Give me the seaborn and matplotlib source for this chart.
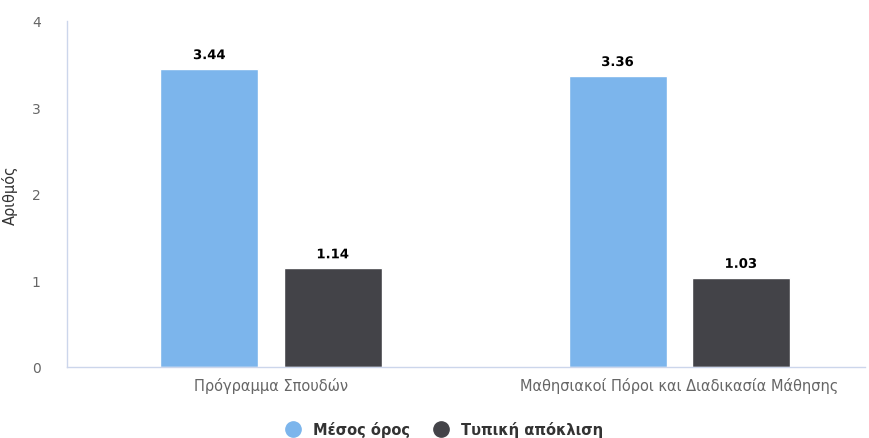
import matplotlib
matplotlib.use("Agg")
import matplotlib.pyplot as plt
import seaborn as sns
import pandas as pd
from matplotlib.lines import Line2D
import matplotlib.patheffects as pe

categories = ["Πρόγραμμα Σπουδών", "Μαθησιακοί Πόροι και Διαδικασία Μάθησης"]
series_names = ["Μέσος όρος", "Τυπική απόκλιση"]
mean_values = [3.44, 3.36]
std_values = [1.14, 1.03]
colors = ["#7cb5ec", "#434348"]
y_ticks = [0, 1, 2, 3, 4]

df = pd.DataFrame({
    "cat": categories * 2,
    "series": [series_names[0]] * 2 + [series_names[1]] * 2,
    "value": mean_values + std_values,
})

sns.set_theme(style="white")
plt.rcParams["font.family"] = ["DejaVu Sans"]

fig = plt.figure(figsize=(8.69, 4.39), dpi=100)
ax_left, ax_w = 67 / 869, (865 - 67) / 869
ax = fig.add_axes([ax_left, (439 - 368) / 439, ax_w, 346.5 / 439])

sns.barplot(data=df, x="cat", y="value", hue="series", palette=colors,
            width=0.604, gap=0.205, ax=ax, legend=False, saturation=1,
            errorbar=None)

ax.set_xlim(-0.5, 1.455)
ax.set_ylim(0, 4)
ax.set_yticks(y_ticks)
ax.set_yticklabels([str(t) for t in y_ticks])
ax.set_xlabel("")
ax.set_ylabel("Αριθμός", fontsize=10.5, color="#333333")
ax.yaxis.set_label_coords((18 - 67) / (865 - 67), 0.5)

for s in ["top", "right"]:
    ax.spines[s].set_visible(False)
ax.spines["left"].set_color("#ccd6eb")
ax.spines["bottom"].set_color("#ccd6eb")
ax.spines["left"].set_linewidth(1)
ax.spines["bottom"].set_linewidth(1)
ax.tick_params(axis="y", length=0, labelsize=10, colors="#666666", pad=19)
ax.tick_params(axis="x", length=0, labelsize=10.5, colors="#666666", pad=7)
for lbl in ax.get_yticklabels() + ax.get_xticklabels():
    lbl.set_color("#666666")

for container in ax.containers:
    labels = ax.bar_label(container, fmt="%.2f", padding=5, fontsize=9.5,
                          fontweight="bold", color="black")
    for t in labels:
        t.set_path_effects([pe.withStroke(linewidth=2, foreground="white")])

handles = [Line2D([0], [0], marker="o", linestyle="", markersize=11,
                  markerfacecolor=c, markeredgecolor=c) for c in colors]
leg = fig.legend(handles, series_names, loc="center",
                 bbox_to_anchor=(0.507, (439 - 430) / 439),
                 ncol=2, frameon=False, handletextpad=0.4,
                 columnspacing=1.1, prop={"weight": "bold", "size": 10.5})
for t in leg.get_texts():
    t.set_color("#333333")

fig.savefig("out.png", dpi=100)
